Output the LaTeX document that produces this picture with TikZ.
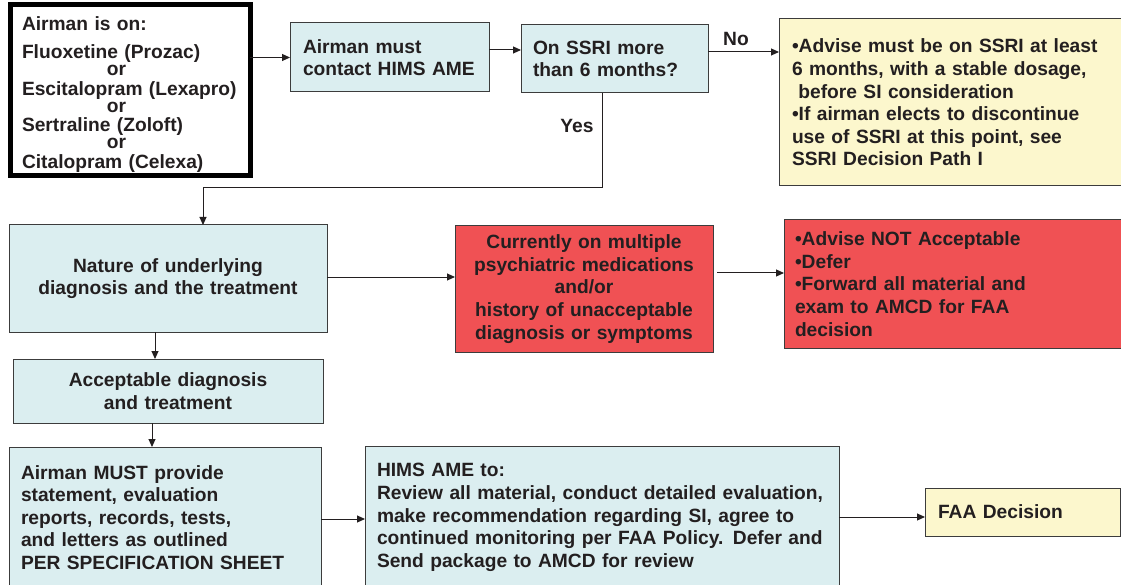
\documentclass[tikz,border=0pt]{standalone}
\usepackage{fontspec}
\setmainfont{Liberation Sans}
\usetikzlibrary{arrows.meta,calc}
\definecolor{bluefill}{HTML}{DBEEF0}
\definecolor{redfill}{HTML}{F05154}
\definecolor{yelfill}{HTML}{FCF7CD}
\definecolor{bord}{HTML}{3C3C3C}
\definecolor{txt}{HTML}{231F20}
\begin{document}
\begin{tikzpicture}[x=1pt,y=-1pt,
  every node/.style={font=\fontsize{19.2}{22.6}\selectfont\bfseries, text=txt, outer sep=0pt},
  box/.style={draw=bord, line width=1pt, inner sep=0pt, anchor=north west},
  bluebox/.style={box, fill=bluefill},
  redbox/.style={box, fill=redfill},
  yelbox/.style={box, fill=yelfill},
  lbl/.style={inner sep=0pt},
  arr/.style={draw=txt, line width=1pt, -{Triangle[length=8pt,width=7pt]}}]
\useasboundingbox (0,0) rectangle (1121,585);
\fill[white] (0,0) rectangle (1121,585);
\clip (0,0) rectangle (1121,585);

\node[box, draw=black, fill=white, line width=5pt, minimum width=240pt, minimum height=171pt,
  text width=216pt, align=left, font=\fontsize{19.2}{19.7}\selectfont\bfseries] (b1) at (10,4.5)
  {\rule{0pt}{23pt}Airman is on:\\[8pt]
   Fluoxetine (Prozac)\\[-2.7pt]
   \hspace*{85pt}or\\
   Escitalopram (Lexapro)\\[-2.7pt]
   \hspace*{85pt}or\\
   Sertraline (Zoloft)\\[-2.7pt]
   \hspace*{85pt}or\\
   Citalopram (Celexa)};

\node[bluebox, minimum width=199pt, minimum height=69pt, text width=173pt, align=left] (b2) at (290,23)
  {Airman must\\contact HIMS AME};
\node[bluebox, minimum width=187pt, minimum height=68pt, text width=163pt, align=left] (b3) at (521,25)
  {On SSRI more\\than 6 months?};
\node[yelbox, minimum width=356pt, minimum height=167pt, text width=330pt, align=left] (yel) at (779,19)
  {\textbullet Advise must be on SSRI at least\\
   6 months, with a stable dosage,\\
   \ before SI consideration\\
   \textbullet If airman elects to discontinue\\
   use of SSRI at this point, see\\
   SSRI Decision Path I};

\node[bluebox, minimum width=318pt, minimum height=107pt, text width=318pt, align=center] (nat) at (9,225)
  {Nature of underlying\\diagnosis and the treatment};
\node[redbox, minimum width=258pt, minimum height=126pt, text width=258pt, align=center] (red1) at (455,226)
  {Currently on multiple\\psychiatric medications\\and/or\\history of unacceptable\\diagnosis or symptoms};
\node[redbox, minimum width=351pt, minimum height=128pt, text width=329pt, align=left] (red2) at (784,220)
  {\textbullet Advise NOT Acceptable\\
   \textbullet Defer\\
   \textbullet Forward all material and\\
   exam to AMCD for FAA\\
   decision};

\node[bluebox, minimum width=310pt, minimum height=64pt, text width=310pt, align=center] (acc) at (13,359)
  {Acceptable diagnosis\\and treatment};

\node[bluebox, minimum width=312pt, minimum height=141pt, text width=288pt, align=left] (must) at (9,447)
  {Airman MUST provide\\
   statement, evaluation\\
   reports, records, tests,\\
   and letters as outlined\\
   PER SPECIFICATION SHEET};
\node[bluebox, minimum width=474pt, minimum height=143pt, text width=450pt, align=left] (hims) at (365,446)
  {HIMS AME to:\\
   Review all material, conduct detailed evaluation,\\
   make recommendation regarding SI, agree to\\
   continued monitoring per FAA Policy. Defer and\\
   Send package to AMCD for review};
\node[yelbox, minimum width=195pt, minimum height=48pt, text width=169pt, align=left] (faa) at (925,488)
  {FAA Decision};

\node[lbl] (no) at (736,39) {No};
\node[lbl] (yes) at (577,126) {Yes};

\draw[arr] (b1.east |- b2.west) -- (b2.west);
\draw[arr] (b2.east |- 0,50) -- (b3.west |- 0,50);
\draw[arr] (b3.east |- 0,52) -- (yel.west |- 0,52);
\draw[arr] (b3.south -| 602,0) -- (602,188) -| (nat.north -| 203,0);
\draw[arr] (nat.east |- 0,277) -- (red1.west |- 0,277);
\draw[arr] ([xshift=4pt]red1.east |- 0,273) -- (red2.west |- 0,273);
\draw[arr] (nat.south -| 155,0) -- (acc.north -| 155,0);
\draw[arr] (acc.south -| 152,0) -- (must.north -| 152,0);
\draw[arr] (must.east |- 0,519) -- (hims.west |- 0,519);
\draw[arr] (hims.east |- 0,517) -- (faa.west |- 0,517);
\end{tikzpicture}
\end{document}
